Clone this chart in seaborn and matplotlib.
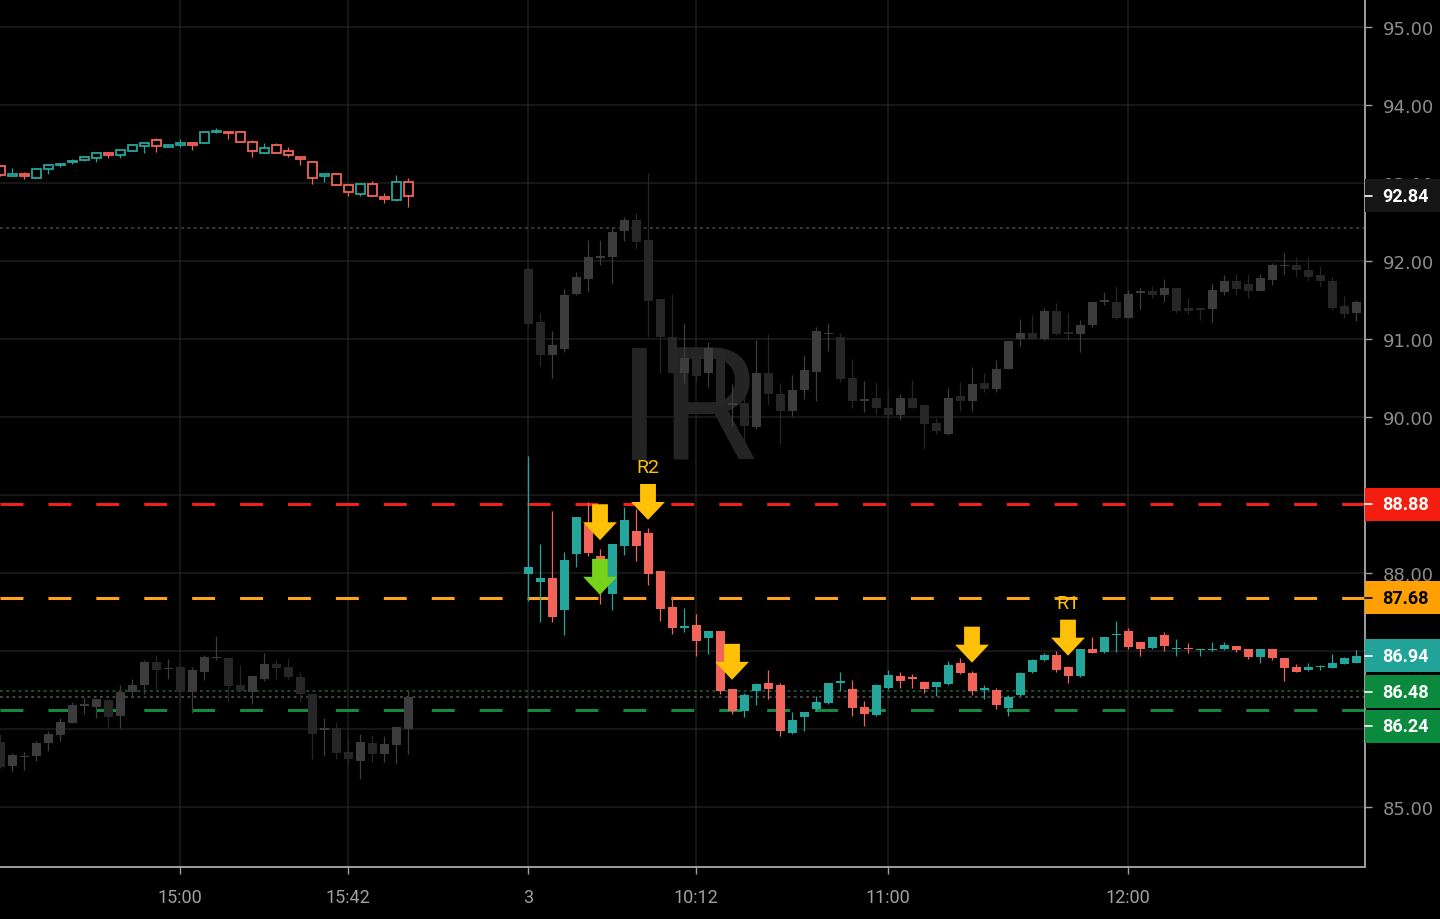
import numpy as np
import matplotlib
matplotlib.use("Agg")
import matplotlib.pyplot as plt
import seaborn as sns
from matplotlib.path import Path
from matplotlib.patches import Rectangle
from matplotlib.ticker import FuncFormatter
from matplotlib.transforms import blended_transform_factory

# bar slots (3 minute bars): previous session ends at slot -10, today starts at slot 0
prev_slots = list(range(-44, -9))
today_slots = list(range(0, 70))

# compared symbol, previous session (hollow coloured candles, top left)
cmp_prev_open = [93.22, 93.09, 93.12, 93.07, 93.18, 93.23, 93.27, 93.29, 93.32, 93.39, 93.36, 93.41,
                 93.47, 93.55, 93.46, 93.49, 93.51, 93.51, 93.65, 93.66, 93.65, 93.52, 93.39, 93.49,
                 93.41, 93.34, 93.27, 93.09, 93.12, 92.97, 92.86, 92.99, 92.82, 92.78, 93.01]
cmp_prev_high = [93.23, 93.19, 93.14, 93.18, 93.24, 93.25, 93.31, 93.34, 93.38, 93.40, 93.43, 93.50,
                 93.51, 93.58, 93.49, 93.56, 93.51, 93.65, 93.70, 93.66, 93.66, 93.55, 93.51, 93.51,
                 93.46, 93.34, 93.27, 93.12, 93.12, 92.97, 93.00, 93.02, 92.87, 93.10, 93.06]
cmp_prev_low = [93.09, 93.09, 93.05, 93.07, 93.12, 93.20, 93.25, 93.28, 93.27, 93.32, 93.32, 93.41,
                93.39, 93.40, 93.46, 93.46, 93.43, 93.51, 93.64, 93.57, 93.52, 93.34, 93.39, 93.38,
                93.34, 93.23, 92.99, 93.01, 92.97, 92.84, 92.83, 92.83, 92.74, 92.77, 92.69]
cmp_prev_close = [93.10, 93.12, 93.09, 93.18, 93.23, 93.25, 93.28, 93.34, 93.38, 93.36, 93.42, 93.49,
                  93.51, 93.47, 93.49, 93.50, 93.49, 93.65, 93.67, 93.64, 93.53, 93.41, 93.45, 93.39,
                  93.36, 93.31, 93.07, 93.12, 92.97, 92.88, 92.99, 92.83, 92.80, 93.01, 92.84]

# main symbol, previous session (grey, bottom left)
main_prev_open = [85.83, 85.52, 85.64, 85.65, 85.82, 85.92, 86.08, 86.30, 86.28, 86.37, 86.16, 86.47,
                  86.56, 86.86, 86.77, 86.80, 86.47, 86.73, 86.91, 86.91, 86.56, 86.48, 86.64, 86.83,
                  86.79, 86.66, 86.45, 85.99, 86.01, 85.71, 85.59, 85.82, 85.68, 85.79, 86.00]
main_prev_high = [85.94, 85.69, 85.70, 85.85, 85.97, 86.14, 86.35, 86.41, 86.38, 86.37, 86.56, 86.64,
                  86.88, 86.95, 86.90, 86.82, 86.79, 86.95, 87.19, 86.91, 86.82, 86.68, 86.97, 86.88,
                  86.91, 86.73, 86.45, 86.14, 86.09, 85.87, 85.94, 85.92, 85.91, 86.02, 86.49]
main_prev_low = [85.50, 85.45, 85.47, 85.59, 85.72, 85.84, 86.08, 86.19, 86.14, 86.02, 86.01, 86.42,
                 86.45, 86.49, 86.64, 86.34, 86.21, 86.63, 86.88, 86.35, 86.47, 86.32, 86.61, 86.64,
                 86.64, 86.34, 85.62, 85.65, 85.61, 85.54, 85.36, 85.57, 85.57, 85.55, 85.68]
main_prev_close = [85.51, 85.66, 85.65, 85.82, 85.94, 86.09, 86.31, 86.31, 86.38, 86.15, 86.47, 86.56,
                   86.86, 86.76, 86.78, 86.47, 86.75, 86.92, 86.92, 86.55, 86.49, 86.68, 86.83, 86.78,
                   86.66, 86.45, 85.94, 86.00, 85.69, 85.61, 85.83, 85.68, 85.81, 86.02, 86.41]

# compared symbol, today (grey ghost candles)
cmp_open = [91.90, 91.22, 90.80, 90.87, 91.58, 91.77, 92.04, 92.05, 92.38, 92.53, 92.27, 91.51, 91.03, 90.57,
            90.77, 90.56, 90.87, 90.16, 90.18, 89.87, 90.56, 90.29, 90.08, 90.35, 90.58, 91.06, 91.03, 90.50,
            90.21, 90.24, 90.11, 90.03, 90.24, 90.15, 89.92, 89.78, 90.27, 90.20, 90.43, 90.36, 90.62, 91.00,
            91.08, 91.00, 91.36, 91.09, 91.06, 91.18, 91.48, 91.48, 91.27, 91.59, 91.61, 91.57, 91.65, 91.40,
            91.40, 91.38, 91.60, 91.75, 91.70, 91.62, 91.76, 91.93, 91.95, 91.89, 91.82, 91.75, 91.42, 91.34]
cmp_high = [91.92, 91.33, 91.10, 91.64, 91.86, 92.27, 92.27, 92.44, 92.56, 92.62, 93.13, 91.51, 91.58, 91.21,
            90.80, 90.96, 90.90, 90.42, 90.59, 90.99, 91.06, 90.44, 90.54, 90.79, 91.15, 91.21, 91.08, 90.74,
            90.46, 90.45, 90.34, 90.30, 90.47, 90.17, 89.99, 90.37, 90.45, 90.64, 90.56, 90.73, 90.98, 91.26,
            91.31, 91.40, 91.46, 91.34, 91.25, 91.48, 91.60, 91.68, 91.63, 91.65, 91.68, 91.77, 91.66, 91.52,
            91.41, 91.72, 91.82, 91.84, 91.84, 91.83, 91.98, 92.10, 92.05, 92.05, 91.93, 91.80, 91.55, 91.50]
cmp_low = [91.17, 90.66, 90.50, 90.83, 91.56, 91.60, 91.95, 91.70, 92.26, 92.16, 91.02, 90.57, 90.56, 90.43,
           90.45, 90.39, 90.10, 89.89, 89.63, 89.85, 90.16, 89.65, 90.01, 90.23, 90.21, 90.85, 90.45, 90.11,
           90.06, 90.04, 89.97, 89.96, 90.12, 89.59, 89.78, 89.77, 90.08, 90.08, 90.32, 90.32, 90.61, 90.91,
           91.00, 90.99, 91.05, 90.99, 90.83, 91.15, 91.43, 91.26, 91.27, 91.39, 91.53, 91.47, 91.33, 91.32,
           91.24, 91.22, 91.56, 91.57, 91.53, 91.61, 91.69, 91.83, 91.80, 91.74, 91.68, 91.37, 91.27, 91.23]
cmp_close = [91.19, 90.80, 90.92, 91.56, 91.80, 92.05, 92.06, 92.37, 92.52, 92.25, 91.49, 91.02, 90.57, 90.76,
             90.53, 90.89, 90.14, 90.18, 89.89, 90.56, 90.30, 90.08, 90.34, 90.60, 91.10, 91.08, 90.49, 90.20,
             90.23, 90.11, 90.03, 90.24, 90.12, 89.91, 89.82, 90.25, 90.20, 90.42, 90.36, 90.62, 90.98, 91.08,
             91.00, 91.36, 91.06, 91.07, 91.18, 91.47, 91.50, 91.27, 91.58, 91.61, 91.56, 91.66, 91.36, 91.36,
             91.37, 91.63, 91.75, 91.64, 91.62, 91.78, 91.95, 91.95, 91.89, 91.79, 91.75, 91.40, 91.32, 91.47]

# main symbol, today (coloured candles)
main_open = [87.99, 87.89, 87.94, 87.53, 88.24, 88.63, 88.22, 87.73, 88.35, 88.54, 88.51, 88.02, 87.56, 87.30,
             87.33, 87.16, 87.26, 86.51, 86.23, 86.49, 86.59, 86.56, 85.95, 86.15, 86.25, 86.33, 86.59, 86.51,
             86.28, 86.18, 86.52, 86.68, 86.66, 86.60, 86.54, 86.58, 86.85, 86.72, 86.50, 86.50, 86.27, 86.43,
             86.73, 86.88, 86.95, 86.80, 86.68, 87.03, 86.99, 87.20, 87.25, 87.11, 87.04, 87.21, 87.02, 87.04,
             87.01, 87.01, 87.02, 87.07, 87.03, 86.92, 87.03, 86.91, 86.80, 86.75, 86.79, 86.78, 86.83, 86.85]
main_high = [89.50, 88.37, 88.80, 88.27, 88.72, 88.91, 88.31, 88.37, 88.85, 88.82, 88.58, 88.03, 87.71, 87.55,
             87.47, 87.26, 87.26, 86.51, 86.46, 86.59, 86.76, 86.59, 86.22, 86.22, 86.42, 86.59, 86.73, 86.63,
             86.36, 86.58, 86.76, 86.73, 86.71, 86.61, 86.60, 86.87, 86.91, 86.74, 86.56, 86.52, 86.44, 86.73,
             86.90, 86.97, 87.00, 86.81, 87.03, 87.18, 87.18, 87.39, 87.29, 87.11, 87.18, 87.24, 87.15, 87.10,
             87.03, 87.12, 87.12, 87.07, 87.03, 87.03, 87.03, 86.91, 86.83, 86.85, 86.82, 86.96, 86.92, 87.01]
main_low = [87.64, 87.37, 87.37, 87.20, 88.08, 88.22, 87.60, 87.53, 88.23, 88.16, 87.84, 87.39, 87.22, 87.24,
            86.93, 86.96, 86.45, 86.19, 86.15, 86.31, 86.38, 85.91, 85.94, 85.98, 86.23, 86.32, 86.49, 86.17,
            86.04, 86.16, 86.51, 86.52, 86.52, 86.46, 86.42, 86.56, 86.71, 86.44, 86.39, 86.25, 86.17, 86.42,
            86.72, 86.87, 86.73, 86.59, 86.67, 86.97, 86.98, 86.99, 87.03, 86.94, 87.03, 87.00, 86.94, 86.98,
            86.93, 87.00, 87.01, 86.99, 86.90, 86.85, 86.89, 86.61, 86.73, 86.74, 86.76, 86.78, 86.83, 86.84]
main_close = [88.08, 87.94, 87.44, 88.17, 88.72, 88.26, 88.16, 88.37, 88.68, 88.34, 87.99, 87.54, 87.29, 87.32,
              87.13, 87.26, 86.49, 86.23, 86.43, 86.58, 86.51, 85.98, 86.11, 86.22, 86.35, 86.59, 86.61, 86.27,
              86.19, 86.56, 86.69, 86.62, 86.64, 86.51, 86.60, 86.82, 86.72, 86.49, 86.52, 86.31, 86.41, 86.72,
              86.88, 86.95, 86.75, 86.68, 87.03, 86.97, 87.18, 87.22, 87.05, 87.03, 87.18, 87.06, 87.04, 87.02,
              87.03, 87.03, 87.08, 87.01, 86.92, 87.03, 86.91, 86.78, 86.73, 86.79, 86.81, 86.85, 86.91, 86.94]

# horizontal levels
level_values = [88.88, 87.68, 86.24]
level_colors = ["#f2201c", "#ffa31a", "#148a40"]
dotted_values = [92.42, 86.49, 86.41]
dotted_colors = ["#4a4a4a", "#1e6b3d", "#5a5a5a"]

# price tags on the right scale
tag_values = [92.84, 88.88, 87.68, 86.94, 86.48, 86.24]
tag_colors = ["#161616", "#f51d0f", "#ffa000", "#22a39a", "#0b8a3e", "#0b8a3e"]
tag_text_colors = ["white", "white", "black", "white", "white", "white"]
tag_shift_px = [0, 0, 0, 0, 0, -16]

# signal arrows
arrow_slots = [6, 10, 17, 37, 45]
arrow_tips = [88.42, 88.68, 86.63, 86.85, 86.94]
green_arrow_slots = [6]
green_arrow_tips = [87.72]
note_slots = [10, 45]
note_tips = [88.68, 86.94]
note_texts = ["R2", "R1"]

tick_slots = [-29, -15, 0, 14, 30, 50]
tick_labels = ["15:00", "15:42", "3", "10:12", "11:00", "12:00"]
y_ticks = [85, 86, 87, 88, 89, 90, 91, 92, 93, 94, 95]
hidden_y_labels = [86, 87]  # fully covered by the price tags

TEAL = "#26a69a"
RED = "#f2645a"
GREY_UP = "#3c3c3c"
GREY_DN = "#262626"

sns.set_theme(style="dark", rc={"axes.facecolor": "#000000", "figure.facecolor": "#000000",
                                "axes.edgecolor": "#9e9e9e", "lines.scale_dashes": False})
plt.rcParams["font.family"] = ["Roboto", "DejaVu Sans"]


def candles(ax, x, o, h, l, c, up, down, hollow=False, width=0.75, z=3):
    x = np.asarray(x, float)
    o, h, l, c = (np.asarray(v, float) for v in (o, h, l, c))
    cols = np.where(c >= o, up, down)
    ax.vlines(x, l, h, colors=cols, lw=0.9, zorder=z)
    bottom = np.minimum(o, c)
    height = np.maximum(np.abs(c - o), 0.018)
    if hollow:
        ax.bar(x, height, width, bottom, facecolor="black", edgecolor=cols, linewidth=1.3, zorder=z + 0.1)
    else:
        ax.bar(x, height, width, bottom, color=cols, linewidth=0, zorder=z + 0.1)


W, H = 1440, 920
ax_w, ax_h = 1365, 868
fig = plt.figure(figsize=(W / 100, H / 100), dpi=100)
ax = fig.add_axes([0, (H - ax_h) / H, ax_w / W, ax_h / H])

ylo, yhi = 84.23, 95.36
ppu = ax_h / (yhi - ylo)

ax.set_axisbelow(True)
ax.grid(True, color="#1e1e1e", lw=1.1)

ax.text(0.504, 0.47, "IR", transform=ax.transAxes, fontsize=113, color="#242424",
        ha="center", va="baseline", zorder=1)

candles(ax, today_slots, cmp_open, cmp_high, cmp_low, cmp_close, GREY_UP, GREY_DN)
candles(ax, prev_slots, main_prev_open, main_prev_high, main_prev_low, main_prev_close, GREY_UP, GREY_DN)

for v, col in zip(level_values, level_colors):
    ax.axhline(v, color=col, lw=2.2, ls=(0, (16.5, 18)), zorder=2)
for v, col in zip(dotted_values, dotted_colors):
    ax.axhline(v, color=col, lw=1.1, ls=(0, (2, 2.5)), zorder=2)

candles(ax, prev_slots, cmp_prev_open, cmp_prev_high, cmp_prev_low, cmp_prev_close, TEAL, RED, hollow=True)
candles(ax, today_slots, main_open, main_high, main_low, main_close, TEAL, RED, z=4)

# down arrow marker with its tip at the origin
arrow = Path([(0, 0), (0.47, 0.5), (0.22, 0.5), (0.22, 1), (-0.22, 1), (-0.22, 0.5), (-0.47, 0.5), (0, 0)],
             [Path.MOVETO] + [Path.LINETO] * 6 + [Path.CLOSEPOLY])
sns.scatterplot(x=arrow_slots, y=arrow_tips, marker=arrow, s=2685, color="#ffc107",
                edgecolor="none", linewidth=0, ax=ax, zorder=8, legend=False)
sns.scatterplot(x=green_arrow_slots, y=green_arrow_tips, marker=arrow, s=2685, color="#76d21a",
                edgecolor="none", linewidth=0, ax=ax, zorder=8, legend=False)
for xs, ys, t in zip(note_slots, note_tips, note_texts):
    ax.annotate(t, (xs, ys), xytext=(0, 38), textcoords="offset points", ha="center", va="center",
                color="#ffc107", fontsize=14, zorder=9)

ax.set_xlim(-44, 69.75)
ax.set_ylim(ylo, yhi)
ax.set_xlabel("")
ax.set_ylabel("")

ax.set_xticks(tick_slots)
ax.set_xticklabels(tick_labels)
ax.yaxis.tick_right()
ax.set_yticks(y_ticks)
ax.yaxis.set_major_formatter(FuncFormatter(
    lambda v, pos: "" if round(v) in hidden_y_labels else f"{v:.2f}"))
ax.tick_params(axis="x", bottom=True, length=5, width=1, color="#9e9e9e",
               labelcolor="#a0a0a0", labelsize=13, pad=10)
ax.tick_params(axis="y", right=True, left=False, length=5, width=1, color="#9e9e9e",
               labelcolor="#8c8c8c", labelsize=13, pad=8)
for lab in ax.get_yticklabels():
    lab.set_family("DejaVu Sans")

for side in ("left", "top"):
    ax.spines[side].set_visible(False)
for side in ("right", "bottom"):
    ax.spines[side].set_color("#9e9e9e")
    ax.spines[side].set_linewidth(1.4)

trans = blended_transform_factory(ax.transAxes, ax.transData)
box_w = (W - ax_w) / ax_w
for v, col, tcol, sh in zip(tag_values, tag_colors, tag_text_colors, tag_shift_px):
    yc = v + sh / ppu
    ax.add_patch(Rectangle((1.0, yc - 16.5 / ppu), box_w, 33 / ppu, transform=trans,
                           facecolor=col, edgecolor="none", clip_on=False, zorder=10))
    ax.plot([1.0, 1.0 + 7 / ax_w], [yc, yc], transform=trans, color=tcol, lw=1.2,
            clip_on=False, zorder=11)
    ax.text(1.0 + 17 / ax_w, yc, f"{v:.2f}", transform=trans, ha="left", va="center",
            color=tcol, fontsize=13, fontweight="bold", clip_on=False, zorder=11)

fig.savefig("out.png", dpi=100, facecolor=fig.get_facecolor())
